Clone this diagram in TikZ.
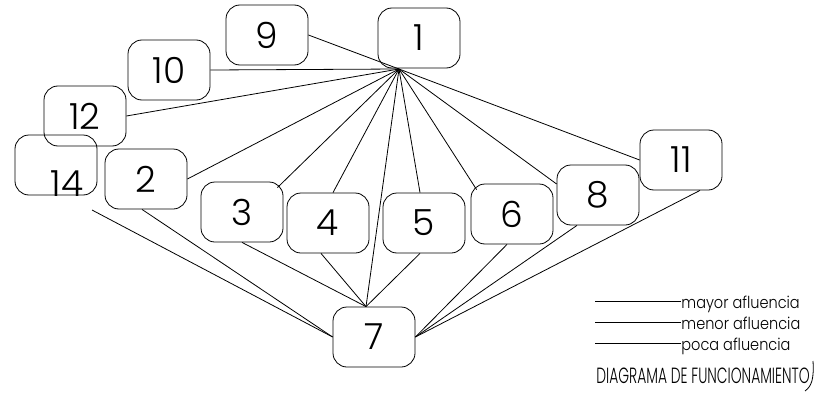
\documentclass[tikz,border=0pt]{standalone}
\usepackage{fontspec}
\setmainfont{Poppins}[UprightFont=* Light]
\newfontfamily\titlefont{Poppins}[UprightFont=* Light,FakeStretch=0.63]
\newfontfamily\legendfont{Poppins}[UprightFont=* Light,FakeStretch=0.88]
\usetikzlibrary{calc}

\begin{document}
\begin{tikzpicture}[x=1pt,y=-1pt,line width=0.8pt,
  station/.style={draw,rounded corners=14pt,minimum width=82pt,minimum height=60pt,inner sep=0pt,font=\fontsize{36}{36}\selectfont},
  legend/.style={anchor=base west,inner sep=0pt,font=\legendfont\fontsize{16.5}{16.5}\selectfont}]
\useasboundingbox (0,0) rectangle (818,396);
% estaciones
\foreach \n/\x/\y in {1/419/38,9/267/35,10/169/70,12/85/116,2/146/179,3/242/212,4/328/223,5/424/223,6/512/214,8/598/195,11/681/160,7/374/337}{\node[station] (n\n) at (\x,\y) {\n};}
\node[station] (n14) at (56,165) {};
\node[inner sep=0pt,font=\fontsize{36}{36}\selectfont] (t14) at (67,184) {14};
\coordinate (hub) at (399,69); \coordinate (tail14) at (92,210);
\coordinate (top7) at ([xshift=-8pt]n7.north);
% desde 1
\foreach \t/\dx/\dy in {n9.east/0/0,n10.east/0/0,n12.east/0/0,n2.east/0/0,n3.north east/-6/-6,n4.north/5/0,n5.north/-4/0,n6.north west/6/-6,n8.west/0/11,n11.west/0/0,top7/0/0}{\draw (hub) -- ([shift={(\dx pt,\dy pt)}]\t);}
% hacia 7
\draw (tail14) -- (n7.west); \draw ([xshift=-4pt]n2.south) -- (n7.west);
\foreach \s/\dx in {n3/0,n4/-7,n5/-4}{\draw ([xshift=\dx pt]\s.south) -- (top7);}
\foreach \s/\dx in {n6/-5,n8/-21,n11/19}{\draw ([xshift=\dx pt]\s.south) -- (n7.east);}
% leyenda
\foreach \l/\y/\txt in {lmayor/308/mayor afluencia,lmenor/329/menor afluencia,lpoca/350/poca afluencia}{\node[legend] (\l) at (681,\y) {\txt}; \coordinate (\l a) at (595,\y-7); \draw (\l a) -- ([yshift=7pt]\l.base west);}
\node[anchor=base west,inner sep=0pt,font=\titlefont\fontsize{22}{22}\selectfont] (title) at (596,383) {DIAGRAMA DE FUNCIONAMIENTO};
\draw (813,361) .. controls (814,378) and (812,386) .. (805,391);
\end{tikzpicture}
\end{document}
